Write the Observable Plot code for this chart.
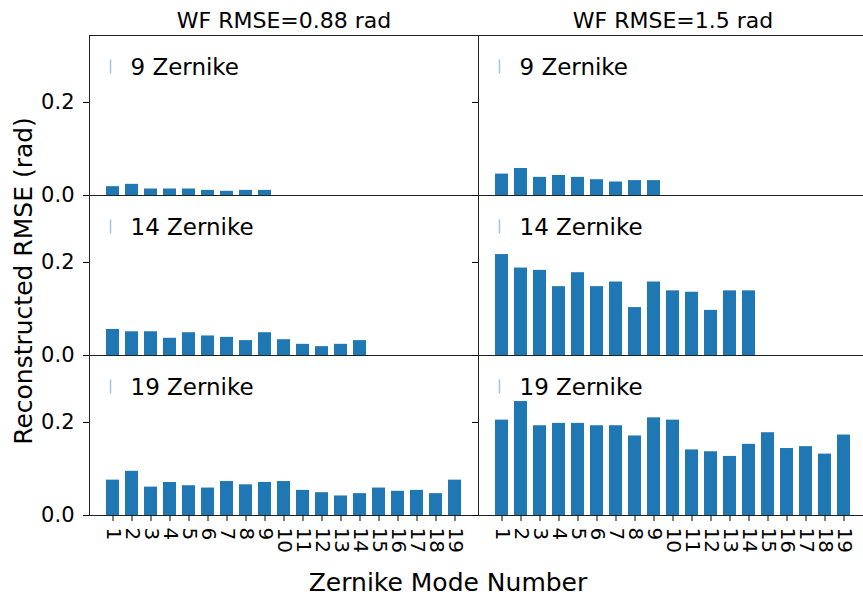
<!DOCTYPE html>
<html>
<head>
<meta charset="utf-8">
<script src="https://cdn.jsdelivr.net/npm/d3@7"></script>
<script src="https://cdn.jsdelivr.net/npm/@observablehq/plot@0.6"></script>
<style>
  html, body { margin: 0; padding: 0; background: white; }
  #wrap { position: relative; width: 863px; height: 597px; overflow: hidden; font-family: "DejaVu Sans", sans-serif; }
  #chart svg { max-width: none !important; width: 868px !important; height: 597px !important; }
  #ylab { position: absolute; left: 23px; top: 281px; transform: translate(-50%, -50%) rotate(-90deg); font-size: 25px; white-space: nowrap; color: #000; }
  #xlab { position: absolute; left: 448px; top: 582px; transform: translate(-50%, -50%); font-size: 25px; white-space: nowrap; color: #000; }
</style>
</head>
<body>
<div id="wrap">
  <div id="chart"></div>
  <div id="ylab">Reconstructed RMSE (rad)</div>
  <div id="xlab">Zernike Mode Number</div>
</div>
<script>
const colTitles = ["WF RMSE=0.88 rad", "WF RMSE=1.5 rad"];
const rowLabels = ["9 Zernike", "14 Zernike", "19 Zernike"];
const modeTicks = [1, 2, 3, 4, 5, 6, 7, 8, 9, 10, 11, 12, 13, 14, 15, 16, 17, 18, 19];
const yTicks = [0, 0.2];

// WF RMSE = 0.88 rad
const low9  = [0.019, 0.024, 0.014, 0.014, 0.014, 0.011, 0.009, 0.011, 0.011];
const low14 = [0.056, 0.051, 0.051, 0.037, 0.049, 0.042, 0.039, 0.032, 0.049, 0.034, 0.024, 0.019, 0.024, 0.032];
const low19 = [0.076, 0.095, 0.061, 0.071, 0.064, 0.059, 0.073, 0.066, 0.071, 0.073, 0.054, 0.049, 0.042, 0.047, 0.059, 0.052, 0.054, 0.047, 0.076];
// WF RMSE = 1.5 rad
const high9  = [0.046, 0.058, 0.039, 0.043, 0.039, 0.034, 0.029, 0.032, 0.032];
const high14 = [0.217, 0.188, 0.183, 0.148, 0.178, 0.148, 0.158, 0.103, 0.158, 0.139, 0.136, 0.097, 0.139, 0.139];
const high19 = [0.205, 0.245, 0.193, 0.198, 0.198, 0.193, 0.193, 0.171, 0.210, 0.205, 0.141, 0.137, 0.127, 0.153, 0.178, 0.144, 0.148, 0.132, 0.173];

const series = [
  [colTitles[0], rowLabels[0], low9],
  [colTitles[0], rowLabels[1], low14],
  [colTitles[0], rowLabels[2], low19],
  [colTitles[1], rowLabels[0], high9],
  [colTitles[1], rowLabels[1], high14],
  [colTitles[1], rowLabels[2], high19]
];
const table = [];
for (const [col, row, vals] of series) {
  vals.forEach((v, i) => table.push({col, row, mode: modeTicks[i], value: v}));
}
const facetLabels = [];
for (const col of colTitles) for (const row of rowLabels) facetLabels.push({col, row});

// legend handle: short vertical stroke
const vline = {draw(ctx) { ctx.moveTo(0, -7); ctx.lineTo(0, 7); }};

const chart = Plot.plot({
  width: 868,
  height: 597,
  marginLeft: 88,
  marginRight: 1,
  marginTop: 35,
  marginBottom: 82,
  style: {fontFamily: "DejaVu Sans", fontSize: "20px", color: "#000", background: "white", overflow: "visible", maxWidth: "none"},
  fx: {domain: colTitles, padding: 0},
  fy: {domain: rowLabels, padding: 0, axis: null},
  x: {type: "band", domain: modeTicks, paddingInner: 0.3, paddingOuter: 0.65},
  y: {domain: [0, 0.344]},
  marks: [
    Plot.barY(table, {fx: "col", fy: "row", x: "mode", y: "value", fill: "#1f77b4"}),
    Plot.frame({stroke: "#222", strokeWidth: 1}),
    Plot.axisY({ticks: yTicks, tickFormat: ".1f", tickSize: 6, tickPadding: 9, fontSize: 21, label: null}),
    Plot.axisY({ticks: yTicks, tickFormat: () => "", tickSize: 6, facetAnchor: null, label: null}),
    Plot.axisX({ticks: modeTicks, tickRotate: 90, tickSize: 6, tickPadding: 6, fontSize: 20, label: null}),
    Plot.axisFx({anchor: "top", tickSize: 0, tickPadding: 8, fontSize: 22, label: null}),
    Plot.dot(facetLabels, {fx: "col", fy: "row", frameAnchor: "top-left", dx: 21, dy: 31, symbol: vline, fill: "none", stroke: "#9fc4e3", strokeWidth: 1.5}),
    Plot.text(facetLabels, {fx: "col", fy: "row", text: "row", frameAnchor: "top-left", dx: 41, dy: 32, fontSize: 23, fill: "#000", textAnchor: "start", lineAnchor: "middle"})
  ]
});
document.getElementById("chart").appendChild(chart);
</script>
</body>
</html>
